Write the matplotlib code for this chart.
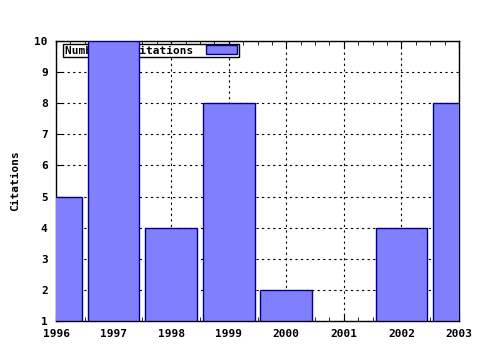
import matplotlib
matplotlib.use('Agg')
import matplotlib.pyplot as plt
from matplotlib.ticker import MultipleLocator

years = [1996, 1997, 1998, 1999, 2000, 2001, 2002, 2003]
citations = [5, 10, 4, 8, 2, 1, 4, 8]
series_label = 'Number of citations'

plt.rcParams['font.family'] = 'DejaVu Sans Mono'
plt.rcParams['font.weight'] = 'bold'
plt.rcParams['axes.labelweight'] = 'bold'
plt.rcParams['font.size'] = 8

fig = plt.figure(figsize=(4.8, 3.5), dpi=100)
ax = fig.add_axes([56 / 480, 1 - 321 / 350, 403 / 480, 280 / 350])

base = 1
heights = [c - base for c in citations]
bars = ax.bar(years, heights, width=0.9, bottom=base, color='#8080ff',
              edgecolor='#000080', linewidth=1.0, label=series_label, zorder=3)
# empty bars (value at the baseline) draw nothing
for b, h in zip(bars, heights):
    if h == 0:
        b.set_linewidth(0)

ax.set_xlim(1996, 2003)
ax.set_ylim(1, 10)
ax.set_xticks(years)
ax.set_xticklabels([str(y) for y in years])
ax.set_yticks(range(1, 11))
ax.xaxis.set_minor_locator(MultipleLocator(0.25))
ax.tick_params(axis='x', which='both', top=True, direction='in', pad=6)
ax.tick_params(axis='x', which='major', length=5)
ax.tick_params(axis='x', which='minor', length=3)
ax.tick_params(axis='y', which='major', left=True, right=False, direction='in', length=5, pad=6)
ax.grid(True, which='major', color='black', linestyle=(0, (2, 3)), linewidth=0.8, zorder=0)
ax.set_axisbelow(True)
for s in ax.spines.values():
    s.set_linewidth(1.0)

ax.set_ylabel('Citations', labelpad=10)

leg = ax.legend(loc='upper left', bbox_to_anchor=(0.017, 0.99), borderaxespad=0,
                markerfirst=False, fancybox=False, framealpha=1, edgecolor='black',
                handlelength=2.8, handleheight=0.8, borderpad=0.15, handletextpad=1.2)
leg.get_frame().set_linewidth(1.0)
leg.set_zorder(1)

fig.savefig('out.png', dpi=100)
